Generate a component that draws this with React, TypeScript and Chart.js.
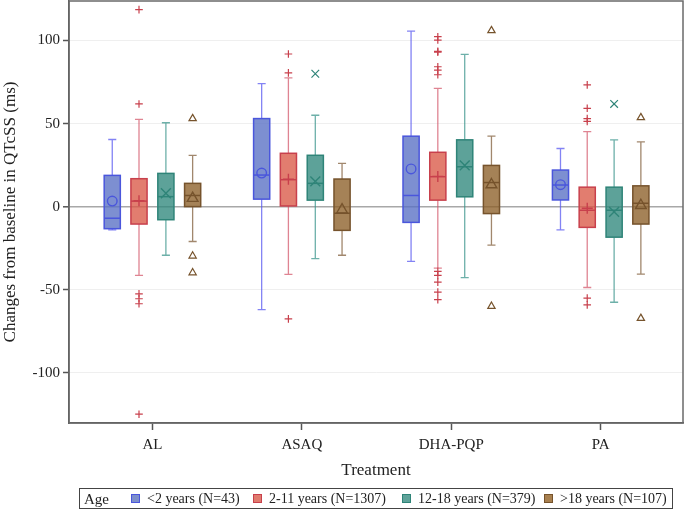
import React, { useEffect, useRef } from "react";
import { Chart, registerables } from "chart.js";

Chart.register(...registerables);

// ---------- data ----------
const treatments = ["AL", "ASAQ", "DHA-PQP", "PA"];
const ageLabels = ["<2 years (N=43)", "2-11 years (N=1307)", "12-18 years (N=379)", ">18 years (N=107)"];
const yTicks = [-100, -50, 0, 50, 100];

// [lower whisker, Q1, median, Q3, upper whisker] per treatment
const boxLt2 = [
  [-14, -13.3, -7, 18.8, 40.4],
  [-62, 4.5, 19, 53, 74],
  [-33, -9.5, 6.7, 42.4, 105.7],
  [-14, 4, 13, 22, 35],
];
const box2to11 = [
  [-41.4, -10.5, 3.3, 16.8, 52.5],
  [-40.8, 0.4, 16.2, 32.1, 77.5],
  [-37, 3.9, 18, 32.7, 71.2],
  [-48.7, -12.5, -2.2, 11.7, 45.1],
];
const box12to18 = [
  [-29.3, -7.9, 6, 20, 50.5],
  [-31.3, 3.9, 14, 30.9, 55],
  [-42.8, 5.9, 24, 40.2, 91.7],
  [-57.6, -18.4, -2.2, 11.7, 40.2],
];
const boxGt18 = [
  [-21, 0, 6.7, 14, 30.9],
  [-29.3, -14.3, -4, 16.6, 26],
  [-23.2, -4.2, 14.5, 24.8, 42.4],
  [-40.6, -10.5, 2, 12.5, 39],
];

const meanLt2 = [3.3, 20.2, 22.7, 13.2];
const mean2to11 = [3.5, 16.5, 18.2, -1];
const mean12to18 = [8, 15.2, 24.8, -3.2];
const meanGt18 = [5, -2, 13.2, 0.7];

const outLt2: number[][] = [[], [], [], []];
const out2to11: number[][] = [
  [118.6, 61.8, -52.5, -55.5, -58.5, -125],
  [91.9, 80.5, -67.6],
  [102.3, 100.3, 93.5, 93, 84.2, 82.2, 79.4, -39, -41.4, -45.5, -51.5, -56],
  [73.3, 59.2, 53, 51.3, -55.1, -59.2],
];
const out12to18: number[][] = [[], [80], [], [61.8]];
const outGt18: number[][] = [[53, -29.7, -39.8], [], [106, -60], [53.6, -67.3]];

// ---------- styles ----------
const groups = [
  {
    box: boxLt2, mean: meanLt2, out: outLt2,
    fill: "rgba(88,112,196,0.78)", line: "#4a56dc", whisker: "rgba(90,90,240,0.75)",
    marker: "#4a56dc", style: "circle", meanR: 4.8, outR: 4, swatch: "#7d8fcc",
  },
  {
    box: box2to11, mean: mean2to11, out: out2to11,
    fill: "rgba(218,88,70,0.78)", line: "#c8404c", whisker: "rgba(210,80,100,0.7)",
    marker: "#c8404c", style: "cross", meanR: 5.5, outR: 3.8, swatch: "#e07b6e",
  },
  {
    box: box12to18, mean: mean12to18, out: out12to18,
    fill: "rgba(48,136,124,0.78)", line: "#2f8478", whisker: "rgba(60,150,140,0.75)",
    marker: "#2f8478", style: "crossRot", meanR: 7, outR: 5.4, swatch: "#5fa39a",
  },
  {
    box: boxGt18, mean: meanGt18, out: outGt18,
    fill: "rgba(140,95,40,0.78)", line: "#76532c", whisker: "rgba(130,95,60,0.75)",
    marker: "#76532c", style: "triangle", meanR: 6.2, outR: 4.2, swatch: "#a8804f",
  },
];

const OFFSETS = [-0.269, -0.09, 0.09, 0.269];
const BOX_HALF = 0.054;
const FONT = "'Liberation Serif', 'Times New Roman', serif";

const boxPlugin = {
  id: "boxPlot",
  beforeDatasetsDraw(chart: any) {
    const { ctx } = chart;
    const xs = chart.scales.x;
    const ys = chart.scales.y;
    groups.forEach((g, gi) => {
      g.box.forEach((b, ti) => {
        const xv = ti + 1 + OFFSETS[gi];
        const xc = xs.getPixelForValue(xv);
        const hw = Math.abs(xs.getPixelForValue(xv + BOX_HALF) - xc);
        const cw = hw / 2;
        const [lo, q1, med, q3, hi] = b.map((v) => ys.getPixelForValue(v));
        ctx.save();
        ctx.strokeStyle = g.whisker;
        ctx.lineWidth = 1.3;
        ctx.beginPath();
        ctx.moveTo(xc, q1);
        ctx.lineTo(xc, lo);
        ctx.moveTo(xc - cw, lo);
        ctx.lineTo(xc + cw, lo);
        ctx.moveTo(xc, q3);
        ctx.lineTo(xc, hi);
        ctx.moveTo(xc - cw, hi);
        ctx.lineTo(xc + cw, hi);
        ctx.stroke();
        ctx.fillStyle = g.fill;
        ctx.fillRect(xc - hw, q3, hw * 2, q1 - q3);
        ctx.strokeStyle = g.line;
        ctx.lineWidth = 1.5;
        ctx.strokeRect(xc - hw, q3, hw * 2, q1 - q3);
        ctx.beginPath();
        ctx.moveTo(xc - hw, med);
        ctx.lineTo(xc + hw, med);
        ctx.stroke();
        ctx.restore();
      });
    });
  },
  afterDraw(chart: any) {
    const { ctx, chartArea: a } = chart;
    ctx.save();
    ctx.strokeStyle = "#6a6a6a";
    ctx.lineWidth = 1.5;
    ctx.strokeRect(a.left, a.top, a.right - a.left, a.bottom - a.top);
    ctx.restore();
  },
};

export default function App() {
  const canvasRef = useRef<HTMLCanvasElement | null>(null);

  useEffect(() => {
    if (!canvasRef.current) return;
    const datasets: any[] = [];
    groups.forEach((g, gi) => {
      datasets.push({
        label: ageLabels[gi] + " mean",
        data: g.mean.map((v, ti) => ({ x: ti + 1 + OFFSETS[gi], y: v })),
        pointStyle: g.style,
        pointRadius: g.meanR,
        pointBorderColor: g.marker,
        pointBackgroundColor: "rgba(0,0,0,0)",
        pointBorderWidth: 1.4,
        showLine: false,
      });
      datasets.push({
        label: ageLabels[gi] + " outliers",
        data: g.out.flatMap((arr, ti) => arr.map((v) => ({ x: ti + 1 + OFFSETS[gi], y: v }))),
        pointStyle: g.style,
        pointRadius: g.outR,
        pointBorderColor: g.marker,
        pointBackgroundColor: "rgba(0,0,0,0)",
        pointBorderWidth: 1.2,
        showLine: false,
      });
    });

    const chart = new Chart(canvasRef.current, {
      type: "scatter",
      data: { datasets },
      plugins: [boxPlugin],
      options: {
        animation: false,
        responsive: false,
        events: [],
        layout: { autoPadding: false, padding: { top: 1, right: 2, bottom: 31, left: 0 } },
        plugins: { legend: { display: false }, tooltip: { enabled: false } },
        scales: {
          x: {
            type: "linear",
            min: 0.4415,
            max: 4.551,
            afterBuildTicks: (s: any) => {
              s.ticks = treatments.map((_, i) => ({ value: i + 1 }));
            },
            afterFit: (s: any) => {
              s.height = 58;
              s.paddingLeft = 0;
              s.paddingRight = 0;
            },
            ticks: {
              autoSkip: false,
              maxRotation: 0,
              padding: 6,
              color: "#222",
              font: { family: FONT, size: 15 },
              callback: (v: any) => treatments[Math.round(Number(v)) - 1] ?? "",
            },
            grid: { drawOnChartArea: false, drawTicks: true, tickLength: 7, tickColor: "#555", tickWidth: 1.5 },
            border: { display: true, color: "#555", width: 1.5 },
            title: {
              display: true,
              text: "Treatment",
              color: "#222",
              font: { family: FONT, size: 17 },
              padding: { top: 0, bottom: 0 },
            },
          },
          y: {
            type: "linear",
            min: -130.3,
            max: 123.8,
            afterBuildTicks: (s: any) => {
              s.ticks = yTicks.map((v) => ({ value: v }));
            },
            afterFit: (s: any) => {
              s.width = 69;
              s.paddingTop = 0;
              s.paddingBottom = 0;
            },
            ticks: {
              padding: 3,
              color: "#222",
              font: { family: FONT, size: 15 },
              callback: (v: any) => String(v),
            },
            grid: {
              drawTicks: true,
              tickLength: 6,
              tickColor: "#555",
              tickWidth: 1.5,
              color: (c: any) => (c.tick && c.tick.value === 0 ? "#a8a8a8" : "#efefef"),
              lineWidth: (c: any) => (c.tick && c.tick.value === 0 ? 1.6 : 1),
            },
            border: { display: true, color: "#555", width: 1.5 },
            title: {
              display: true,
              text: "Changes from baseline in QTcSS (ms)",
              color: "#222",
              font: { family: FONT, size: 17 },
              padding: { top: 0, bottom: 0 },
            },
          },
        },
      },
    } as any);
    return () => chart.destroy();
  }, []);

  const swatchLeft = [131, 253, 402, 544];

  return (
    <div style={{ position: "absolute", left: 0, top: 0, width: 685, height: 512, background: "#fff" }}>
      <canvas ref={canvasRef} width={685} height={512} style={{ display: "block" }} />
      <div
        style={{
          position: "absolute",
          left: 79,
          top: 488,
          width: 594,
          height: 21,
          border: "1px solid #444",
          fontFamily: FONT,
          fontSize: 14,
          color: "#222",
          boxSizing: "border-box",
        }}
      >
        <span style={{ position: "absolute", left: 4, top: 1, lineHeight: "18px", fontSize: 15 }}>Age</span>
        {ageLabels.map((lab, i) => (
          <React.Fragment key={lab}>
            <span
              style={{
                position: "absolute",
                left: swatchLeft[i] - 80,
                top: 5,
                width: 9,
                height: 9,
                background: groups[i].swatch,
                border: "1px solid " + groups[i].line,
                boxSizing: "border-box",
              }}
            />
            <span style={{ position: "absolute", left: swatchLeft[i] - 80 + 16, top: 1, lineHeight: "18px", whiteSpace: "nowrap" }}>
              {lab}
            </span>
          </React.Fragment>
        ))}
      </div>
    </div>
  );
}
